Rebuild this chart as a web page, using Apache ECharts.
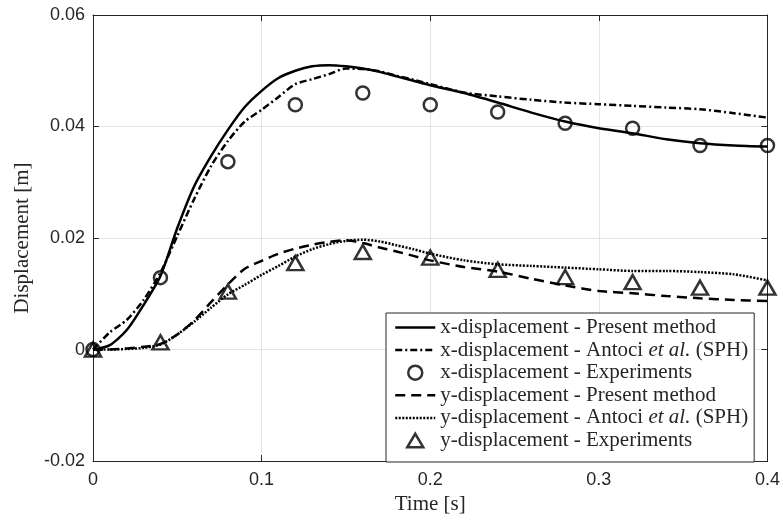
<!DOCTYPE html>
<html>
<head>
<meta charset="utf-8">
<script src="https://cdn.jsdelivr.net/npm/echarts@6/dist/echarts.min.js"></script>
<style>
  html, body { margin: 0; padding: 0; background: #ffffff; }
  #chart { width: 783px; height: 520px; }
</style>
</head>
<body>
<div id="chart"></div>
<script>
// Time samples [s] shared by the simulated curves
const tCurve = [0, 0.01, 0.02, 0.03, 0.04, 0.05, 0.06, 0.07, 0.08, 0.09, 0.10,
  0.11, 0.12, 0.13, 0.14, 0.15, 0.16, 0.17, 0.18, 0.19, 0.20,
  0.22, 0.24, 0.26, 0.28, 0.30, 0.32, 0.34, 0.36, 0.38, 0.40];

// x-displacement [m], present method
const xPresent = [0, 0.0008, 0.0035, 0.0080, 0.0132, 0.0218, 0.0293, 0.0347, 0.0394, 0.0435, 0.0464,
  0.0487, 0.0500, 0.0508, 0.0510, 0.0508, 0.0504, 0.0498, 0.0490, 0.0482, 0.0474,
  0.0460, 0.0443, 0.0425, 0.0409, 0.0397, 0.0388, 0.0377, 0.0370, 0.0366, 0.0364];

// x-displacement [m], Antoci et al. (SPH)
const xAntoci = [0, 0.0031, 0.0053, 0.0089, 0.0138, 0.0204, 0.0270, 0.0329, 0.0374, 0.0409, 0.0430,
  0.0453, 0.0476, 0.0485, 0.0494, 0.0504, 0.0503, 0.0499, 0.0491, 0.0484, 0.0476,
  0.0461, 0.0454, 0.0448, 0.0443, 0.0440, 0.0437, 0.0434, 0.0431, 0.0424, 0.0416];

// y-displacement [m], present method
const yPresent = [0, 0, 0.0002, 0.0005, 0.0010, 0.0027, 0.0052, 0.0085, 0.0117, 0.0145, 0.0159,
  0.0172, 0.0181, 0.0188, 0.0193, 0.0196, 0.0191, 0.0183, 0.0176, 0.0168, 0.0160,
  0.0148, 0.0140, 0.0127, 0.0115, 0.0105, 0.0101, 0.0096, 0.0092, 0.0089, 0.0087];

// y-displacement [m], Antoci et al. (SPH)
const yAntoci = [0, 0, 0.0001, 0.0003, 0.0009, 0.0027, 0.0050, 0.0075, 0.0099, 0.0116, 0.0134,
  0.0150, 0.0167, 0.0180, 0.0189, 0.0195, 0.0197, 0.0194, 0.0187, 0.0180, 0.0172,
  0.0160, 0.0153, 0.0150, 0.0147, 0.0144, 0.0141, 0.0141, 0.0139, 0.0135, 0.0124];

// Experimental measurements
const tExp = [0, 0.04, 0.08, 0.12, 0.16, 0.20, 0.24, 0.28, 0.32, 0.36, 0.40];
const xExp = [0, 0.0129, 0.0337, 0.0439, 0.0460, 0.0439, 0.0426, 0.0406, 0.0397, 0.0366, 0.0366];
const yExp = [0, 0.0013, 0.0104, 0.0155, 0.0175, 0.0165, 0.0143, 0.0130, 0.0121, 0.0111, 0.0111];

// Tick labels
const xTickLabels = ['0', '0.1', '0.2', '0.3', '0.4'];
const yTickLabels = ['-0.02', '0', '0.02', '0.04', '0.06'];

// Series names (legend order)
const seriesNames = [
  'x-displacement - Present method',
  'x-displacement - Antoci et al. (SPH)',
  'x-displacement - Experiments',
  'y-displacement - Present method',
  'y-displacement - Antoci et al. (SPH)',
  'y-displacement - Experiments'
];

const pairs = (ts, vs) => ts.map((t, i) => [t, vs[i]]);

const SERIF = '"Liberation Serif", "Times New Roman", serif';
const SANS = '"Liberation Sans", Arial, Helvetica, sans-serif';
const AXIS = '#262626';
const GRID = '#e4e4e4';
const INK = '#000000';
const LW = 2.5;
const MW = 2.5;

// Legend triangle: invisible zero-length anchors at both ends keep the
// 40x14 icon box from stretching the triangle sideways.
const LEGEND_TRIANGLE = 'path://M0,7L0,7M40,7L40,7M12,14L20,0.5L28,14Z';

const xRange = { min: 0, max: 0.4, interval: 0.1 };
const yRange = { min: -0.02, max: 0.06, interval: 0.02 };

function frameAxis(extra) {
  return Object.assign({
    type: 'value',
    axisLine: { show: true, onZero: false, lineStyle: { color: AXIS, width: 1 } },
    axisTick: { show: true, inside: true, length: 6, lineStyle: { color: AXIS, width: 1 } },
    splitLine: { show: false },
    axisLabel: { show: false }
  }, extra);
}

const chart = echarts.init(document.getElementById('chart'), null, { renderer: 'canvas' });

const lineSeries = (name, data, dash) => ({
  name: name,
  type: 'line',
  data: data,
  symbol: 'none',
  smooth: 0.25,
  lineStyle: { color: INK, width: LW, type: dash, cap: 'butt' },
  itemStyle: { color: INK },
  z: 3
});

const markerSeries = (name, data, symbol, size) => ({
  name: name,
  type: 'scatter',
  data: data,
  symbol: symbol,
  symbolSize: size,
  clip: false,
  itemStyle: { color: 'rgba(0,0,0,0)', borderColor: INK, borderWidth: MW },
  z: 4
});

function legendFormatter(name) {
  const key = 'et al.';
  const k = name.indexOf(key);
  if (k < 0) return '{n|' + name + '}';
  return '{n|' + name.slice(0, k) + '}{i|' + key + '}{n|' + name.slice(k + key.length) + '}';
}

// Line entries show only their stroke; marker entries show only their symbol
const markerLegendStyle = { color: 'rgba(0,0,0,0)', borderColor: INK, borderWidth: MW, borderCap: 'butt' };
const legendItems = seriesNames.map((name, i) => {
  if (i === 2) return { name: name, icon: 'circle', itemStyle: markerLegendStyle };
  if (i === 5) return { name: name, icon: LEGEND_TRIANGLE, itemStyle: markerLegendStyle };
  return { name: name, itemStyle: { opacity: 0 } };
});

chart.setOption({
  animation: false,
  backgroundColor: '#ffffff',
  grid: { left: 93, right: 14, top: 15, bottom: 46, containLabel: false },
  xAxis: [
    frameAxis(Object.assign({}, xRange, {
      position: 'bottom',
      axisLabel: {
        show: true, margin: 10, color: AXIS, fontFamily: SANS, fontSize: 18,
        formatter: v => xTickLabels[Math.round(v / xRange.interval)]
      },
      splitLine: { show: true, lineStyle: { color: GRID, width: 1 } },
      name: 'Time [s]',
      nameLocation: 'middle',
      nameGap: 26,
      nameTextStyle: { fontFamily: SERIF, fontSize: 21, color: AXIS }
    })),
    frameAxis(Object.assign({}, xRange, { position: 'top' }))
  ],
  yAxis: [
    frameAxis(Object.assign({}, yRange, {
      position: 'left',
      axisLabel: {
        show: true, margin: 8, color: AXIS, fontFamily: SANS, fontSize: 18,
        formatter: v => yTickLabels[Math.round((v - yRange.min) / yRange.interval)]
      },
      splitLine: { show: true, lineStyle: { color: GRID, width: 1 } },
      name: 'Displacement [m]',
      nameLocation: 'middle',
      nameGap: 60,
      nameTextStyle: { fontFamily: SERIF, fontSize: 21, color: AXIS }
    })),
    frameAxis(Object.assign({}, yRange, { position: 'right' }))
  ],
  legend: {
    data: legendItems,
    orient: 'vertical',
    left: 386,
    top: 313,
    padding: [4, 6, 11, 8],
    itemWidth: 40,
    itemHeight: 14,
    itemGap: 1.6,
    symbolKeepAspect: true,
    selectedMode: false,
    backgroundColor: '#ffffff',
    borderColor: AXIS,
    borderWidth: 1,
    borderRadius: 0,
    lineStyle: { width: LW },
    formatter: legendFormatter,
    textStyle: {
      color: AXIS,
      rich: {
        n: { fontFamily: SERIF, fontSize: 21, lineHeight: 20, color: AXIS },
        i: { fontFamily: SERIF, fontSize: 21, lineHeight: 20, fontStyle: 'italic', color: AXIS }
      }
    }
  },
  series: [
    lineSeries(seriesNames[0], pairs(tCurve, xPresent), 'solid'),
    lineSeries(seriesNames[1], pairs(tCurve, xAntoci), [7, 3, 2, 3]),
    markerSeries(seriesNames[2], pairs(tExp, xExp), 'circle', 13),
    lineSeries(seriesNames[3], pairs(tCurve, yPresent), [10, 6]),
    lineSeries(seriesNames[4], pairs(tCurve, yAntoci), [2, 1.5]),
    markerSeries(seriesNames[5], pairs(tExp, yExp), 'triangle', [16, 14])
  ]
});
</script>
</body>
</html>
